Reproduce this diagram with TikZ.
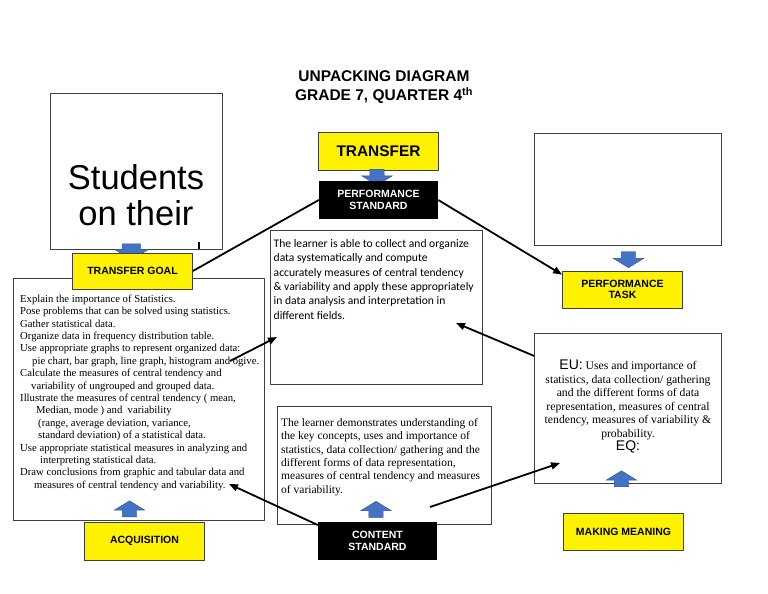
\documentclass[tikz,border=0pt]{standalone}
\usepackage{fontspec}
\setmainfont{Liberation Serif}
\setsansfont{Liberation Sans}
\newfontfamily\calibri{Carlito}
\usepackage{tikz}
\usetikzlibrary{arrows.meta, shapes.arrows}

\definecolor{arrowblue}{HTML}{4472C4}
\definecolor{arrowedge}{HTML}{2F528F}
\definecolor{boxedge}{HTML}{404040}

\begin{document}
\begin{tikzpicture}[x=1pt, y=-1pt,
  labelbox/.style={draw=boxedge, fill=yellow, line width=0.8pt, minimum width=120pt, minimum height=37pt,
    inner sep=0pt, align=center, font=\sffamily\bfseries\fontsize{10.5}{12}\selectfont},
  stdbox/.style={fill=black, text=white, minimum width=119pt, minimum height=38pt, inner sep=0pt,
    align=center, font=\sffamily\bfseries\fontsize{10.5}{12.5}\selectfont},
  textbox/.style={draw=boxedge, line width=0.8pt, inner sep=0pt},
  bluearrow/.style={single arrow, draw=arrowedge, fill=arrowblue, line width=0.4pt, minimum width=30pt,
    single arrow head extend=8pt, single arrow tip angle=117, minimum height=16pt, inner xsep=0pt, inner ysep=7pt},
  link/.style={line width=1.8pt, -{Triangle[length=9pt,width=7pt]}}]
  \useasboundingbox (0,0) rectangle (768,594);

  \node[font=\sffamily\bfseries\fontsize{15.5}{19}\selectfont, align=center] (title) at (384,87)
    {UNPACKING DIAGRAM\\GRADE 7, QUARTER 4\textsuperscript{th}};

  % transfer goal / acquisition
  \node[textbox, minimum width=172pt, minimum height=156pt] (stubox) at (136,171) {};
  \node[font=\sffamily\fontsize{34.5}{36}\selectfont, align=center] (stutext) at (136,195) {Students\\on their};
  \fill (197.5,242) rectangle (200,249);
  \node[bluearrow, rotate=-90, minimum width=33pt, inner ysep=9pt] (a1) at (131.5,249) {};
  \node[textbox, minimum width=251pt, minimum height=242pt] (acqbox) at (138.5,399) {};
  \node[labelbox, minimum height=36pt] (tgoal) at (132.5,271) {TRANSFER GOAL};
  \node[anchor=north west, align=left, inner sep=0pt, font=\fontsize{10.7}{12.4}\selectfont] (acqtext) at (20,294.5) {%
    Explain the importance of Statistics.\\
    Pose problems that can be solved using statistics.\\
    Gather statistical data.\\
    Organize data in frequency distribution table.\\
    Use appropriate graphs to represent organized data:\\
    \hspace*{12pt}pie chart, bar graph, line graph, histogram and ogive.\\
    Calculate the measures of central tendency and\\
    \hspace*{11pt}variability of ungrouped and grouped data.\\
    Illustrate the measures of central tendency ( mean,\\
    \hspace*{16pt}Median, mode ) and\ \ variability\\
    \hspace*{18pt}(range, average deviation, variance,\\
    \hspace*{18pt}standard deviation) of a statistical data.\\
    Use appropriate statistical measures in analyzing and\\
    \hspace*{20pt}interpreting statistical data.\\
    Draw conclusions from graphic and tabular data and\\
    \hspace*{14pt}measures of central tendency and variability.};
  \node[bluearrow, rotate=90] (a2) at (129.5,511) {};
  \node[labelbox, minimum height=38pt] (acq) at (144.5,541) {ACQUISITION};

  % transfer / standards
  \node[labelbox, minimum height=38pt, font=\sffamily\bfseries\fontsize{15.4}{18}\selectfont] (transfer) at (378.5,151) {TRANSFER};
  \node[bluearrow, rotate=-90] (a3) at (377,175) {};
  \node[stdbox] (pstd) at (378.5,200) {PERFORMANCE\\STANDARD};
  \node[textbox, minimum width=212pt, minimum height=154pt] (psbox) at (376,307) {};
  \node[anchor=north west, align=left, inner sep=0pt, font=\calibri\fontsize{11.6}{14.4}\selectfont] (pstext) at (273.5,239) {%
    The learner is able to collect and organize\\
    data systematically and compute\\
    accurately measures of central tendency\\
    \& variability and apply these appropriately\\
    in data analysis and interpretation in\\
    different fields.};
  \node[textbox, minimum width=214pt, minimum height=118pt] (csbox) at (384,465) {};
  \node[anchor=north west, align=left, inner sep=0pt, font=\fontsize{11.5}{13.4}\selectfont] (cstext) at (281,418) {%
    The learner demonstrates understanding of\\
    the key concepts, uses and importance of\\
    statistics, data collection/ gathering and the\\
    different forms of data representation,\\
    measures of central tendency and measures\\
    of variability.};
  \node[bluearrow, rotate=90] (a4) at (376,511.5) {};
  \node[stdbox] (cstd) at (377.5,541) {CONTENT\\STANDARD};

  % performance task / making meaning
  \node[textbox, minimum width=187pt, minimum height=112pt] (ptbox) at (628,189) {};
  \node[bluearrow, rotate=-90] (a5) at (628.5,257.5) {};
  \node[labelbox, font=\sffamily\bfseries\fontsize{10.5}{11.7}\selectfont] (ptask) at (622.5,289.5) {PERFORMANCE\\TASK};
  \node[textbox, minimum width=187pt, minimum height=150pt] (eubox) at (628,408) {};
  \node[align=center, inner sep=0pt, font=\fontsize{11.7}{13.5}\selectfont] (eutext) at (628,407) {%
    {\sffamily\fontsize{14}{13.5}\selectfont EU:} Uses and importance of\\
    statistics, data collection/ gathering\\
    and the different forms of data\\
    representation, measures of central\\
    tendency, measures of variability \&\\
    probability.\\
    {\sffamily\fontsize{14}{13.5}\selectfont EQ:}};
  \node[bluearrow, rotate=90] (a6) at (621.5,481) {};
  \node[labelbox] (mmean) at (623.5,531.5) {MAKING MEANING};

  \coordinate (ogive) at (230,361);
  \coordinate (psleft) at (277,337);
  \coordinate (psright) at (456,323);
  \coordinate (concl) at (229,484);
  \coordinate (csright) at (430,507);
  \coordinate (euleft) at (560,463);

  \draw[line width=1.8pt] (tgoal.east) -- (pstd.west);
  \draw[link] (pstd.east) -- ([yshift=-4pt]ptask.north west);
  \draw[link] (eubox.151) -- (psright);
  \draw[link] (ogive) -- (psleft);
  \draw[link] (cstd.165) -- (concl);
  \draw[link] (csright) -- (euleft);
\end{tikzpicture}
\end{document}
